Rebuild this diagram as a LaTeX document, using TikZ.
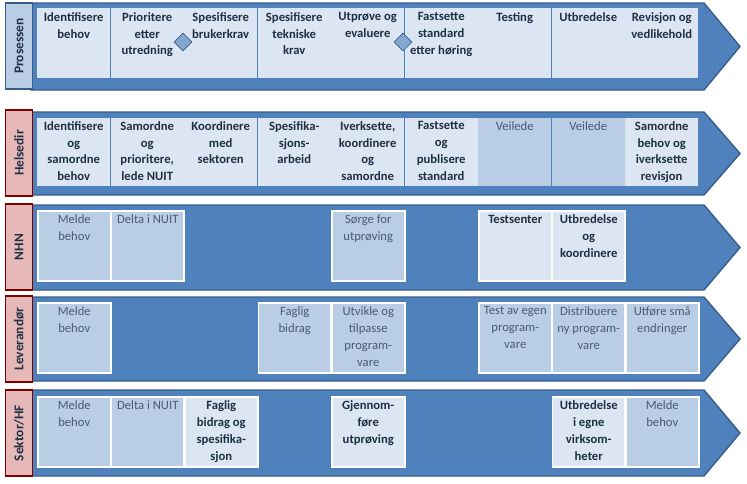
\documentclass[tikz,border=0pt]{standalone}
\usepackage{fontspec}
\setmainfont{Carlito}
\usetikzlibrary{shapes.geometric}
\definecolor{band}{HTML}{4F81BD}
\definecolor{bandline}{HTML}{385D8A}
\definecolor{light}{HTML}{DCE6F2}
\definecolor{mid}{HTML}{B9CDE5}
\definecolor{pink}{HTML}{E6B9B8}
\definecolor{darktext}{HTML}{1F2F44}
\definecolor{softtext}{HTML}{4A5B72}
\newcommand{\celltext}[1]{\parbox[t][1.55cm][t]{1.75cm}{\centering #1}}
\begin{document}
\begin{tikzpicture}[x=0.025cm, y=-0.025cm]
        \tikzstyle{cell} = [anchor=north west, minimum width=1.8cm, minimum height=1.75cm, inner sep=1pt, font=\fontsize{9}{12}\selectfont]
        \tikzstyle{boldcell} = [cell, fill=light, text=darktext, font=\fontsize{9}{12}\selectfont\bfseries]
        \tikzstyle{softcell} = [cell, fill=mid, text=softtext]
        \tikzstyle{framed} = [draw=white, line width=1.2pt]
        \tikzstyle{lane} = [anchor=center, minimum width=2.15cm, minimum height=0.68cm, rotate=90, draw, line width=1pt, font=\fontsize{9.5}{12}\selectfont\bfseries, text=darktext]
        \tikzstyle{gate} = [diamond, draw=bandline, fill=band!70, minimum size=0.45cm, inner sep=0pt]
        \useasboundingbox (0,0) rectangle (747,483);
        % bands
        \foreach \t/\b in {3/90, 112/195, 205/290, 297/381, 390/476}
            \draw[bandline, fill=band, line width=1pt] (31,\t) -- (704,\t) -- (740,{(\t+\b)/2}) -- (704,\b) -- (31,\b) -- cycle;
        % lane labels
        \node[lane, fill=mid, draw=bandline] (prosessen) at (19,46) {Prosessen};
        \node[lane, fill=pink, draw=red!50!black] (helsedir) at (19,153) {Helsedir};
        \node[lane, fill=pink, draw=red!50!black] (nhn) at (19,247) {NHN};
        \node[lane, fill=pink, draw=red!50!black] (leverandor) at (19,339) {Leverandør};
        \node[lane, fill=pink, draw=red!50!black] (sektor) at (19,433) {Sektor/HF};
        % prosessen
        \foreach \i/\txt in {1/{Identifisere\\behov}, 2/{Prioritere\\etter\\utredning}, 3/{Spesifisere\\brukerkrav}, 4/{Spesifisere\\tekniske\\krav}, 5/{Utprøve og\\evaluere}, 6/{Fastsette\\standard\\etter høring}, 7/{Testing}, 8/{Utbredelse}, 9/{Revisjon og\\vedlikehold}}
            \node[boldcell] (p\i) at ({37+73.5*(\i-1)},8) {\celltext{\txt}};
        \node[gate] (g1) at (183,42) {};
        \node[gate] (g2) at (403,42) {};
        % helsedir
        \foreach \i/\txt in {1/{Identifisere\\og\\samordne\\behov}, 2/{Samordne\\og\\prioritere,\\lede NUIT}, 3/{Koordinere\\med\\sektoren}, 4/{Spesifika-\\sjons-\\arbeid}, 5/{Iverksette,\\koordinere\\og\\samordne}, 6/{Fastsette\\og\\publisere\\standard}, 9/{Samordne\\behov og\\iverksette\\revisjon}}
            \node[boldcell, minimum height=1.7cm] (h\i) at ({37+73.5*(\i-1)},118) {\celltext{\txt}};
        \node[softcell, minimum height=1.7cm] (h7) at ({37+73.5*6},118) {\celltext{Veilede}};
        \node[softcell, minimum height=1.7cm] (h8) at ({37+73.5*7},118) {\celltext{Veilede}};
        % nhn
        \node[softcell, framed] (n1) at (37,210) {\celltext{Melde\\behov}};
        \node[softcell, framed] (n2) at (110.5,210) {\celltext{Delta i NUIT}};
        \node[softcell, framed] (n5) at (331,210) {\celltext{Sørge for\\utprøving}};
        \node[boldcell, framed] (n7) at (478,210) {\celltext{Testsenter}};
        \node[boldcell, framed] (n8) at (551.5,210) {\celltext{Utbredelse\\og\\koordinere}};
        % leverandor
        \node[softcell, framed] (l1) at (37,302) {\celltext{Melde\\behov}};
        \node[softcell, framed] (l4) at (257.5,302) {\celltext{Faglig\\bidrag}};
        \node[softcell, framed] (l5) at (331,302) {\celltext{Utvikle og\\tilpasse\\program-\\vare}};
        \node[softcell, framed] (l7) at (478,302) {\celltext{Test av egen\\program-\\vare}};
        \node[softcell, framed] (l8) at (551.5,302) {\celltext{Distribuere\\ny program-\\vare}};
        \node[softcell, framed] (l9) at (625,302) {\celltext{Utføre små\\endringer}};
        % sektor
        \node[softcell, framed] (s1) at (37,396) {\celltext{Melde\\behov}};
        \node[softcell, framed] (s2) at (110.5,396) {\celltext{Delta i NUIT}};
        \node[boldcell, framed] (s3) at (184,396) {\celltext{Faglig\\bidrag og\\spesifika-\\sjon}};
        \node[boldcell, framed] (s5) at (331,396) {\celltext{Gjennom-\\føre\\utprøving}};
        \node[boldcell, framed] (s8) at (551.5,396) {\celltext{Utbredelse\\i egne\\virksom-\\heter}};
        \node[softcell, framed] (s9) at (625,396) {\celltext{Melde\\behov}};
    \end{tikzpicture}
\end{document}
